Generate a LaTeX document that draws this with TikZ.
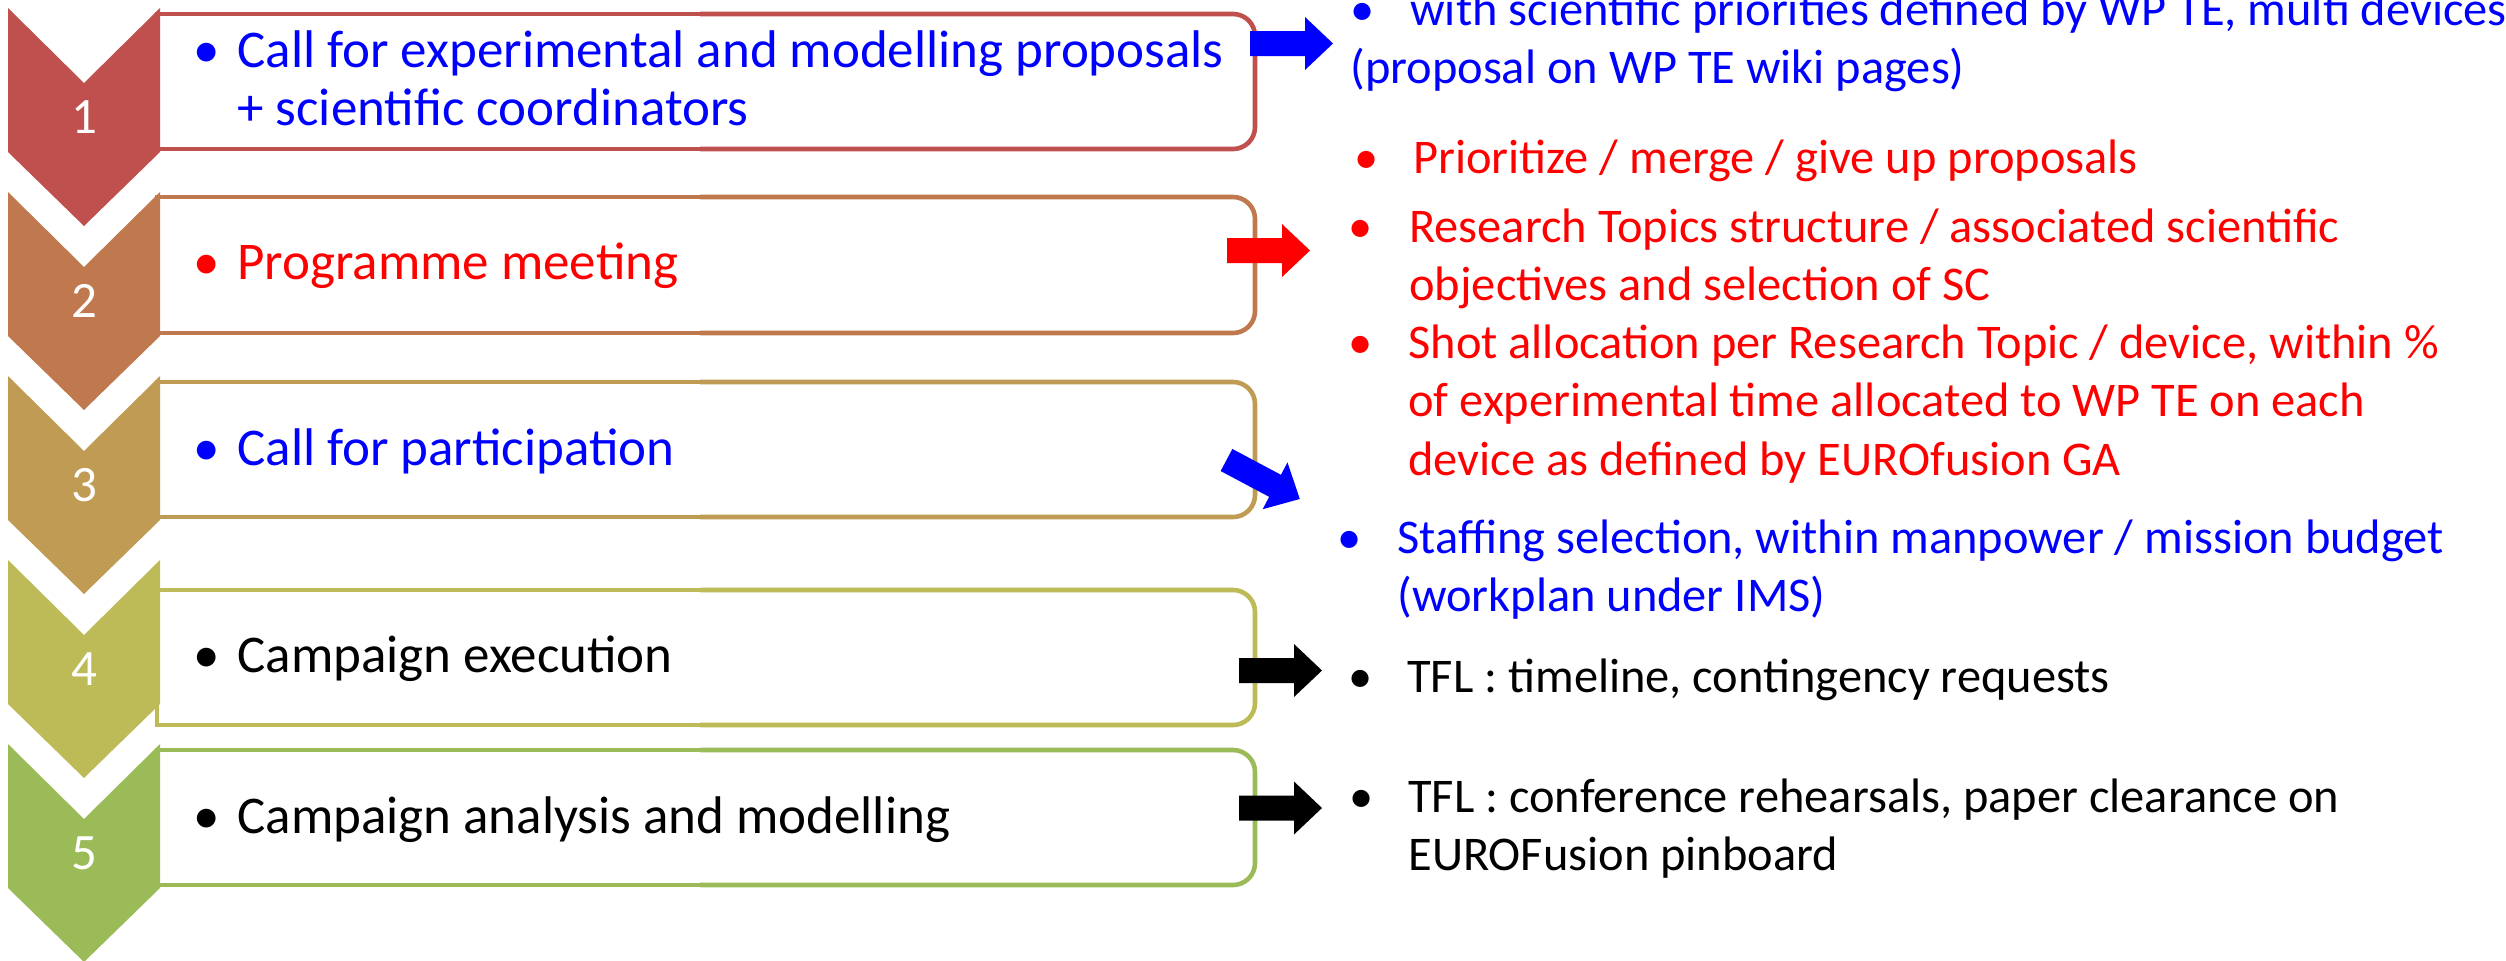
\documentclass[tikz,border=0pt]{standalone}
\usepackage{fontspec}
\setmainfont{Carlito}
\definecolor{chevA}{HTML}{C0504D}
\definecolor{chevB}{HTML}{C0794F}
\definecolor{chevC}{HTML}{BF9B53}
\definecolor{chevD}{HTML}{BDBB58}
\definecolor{chevE}{HTML}{9BBB59}
\newcommand{\bul}[1]{\makebox[#1][l]{\textbullet}}
\newcommand{\lines}[1]{\begin{tabular}[t]{@{}l@{}}#1\end{tabular}}
\newcommand{\stepbox}[3]{%
	\draw[boxline, #1, line cap=rect] (700,#2) -- (157,#2) -- (157,#3) -- (700,#3);
	\draw[boxline, #1, rounded corners=11pt] (700,#2) -- (1255,#2) -- (1255,#3) -- (700,#3);}
\newcommand{\blockarrow}[3]{%
	\fill[#1, shift={#2}, rotate=#3] (0,-12.5) -- (55,-12.5) -- (55,-26.5) -- (83,0) -- (55,26.5) -- (55,12.5) -- (0,12.5) -- cycle;}
\tikzset{
	boxline/.style={line width=2.3pt},
	num/.style={text=white, inner sep=0pt, font=\fontsize{25.5}{30}\selectfont},
	stxt/.style={anchor=base west, inner sep=0pt, font=\fontsize{26.5}{29}\selectfont},
	txt/.style={anchor=base west, inner sep=0pt, font=\fontsize{24.2}{29.25}\selectfont},
}

\begin{document}
\begin{tikzpicture}[x=0.5pt, y=-0.5pt]
	\useasboundingbox (0,0) rectangle (2506,960);
	\stepbox{chevA}{14}{149}
	\stepbox{chevB}{197}{333}
	\stepbox{chevC}{382}{517}
	\stepbox{chevD}{590}{725}
	\stepbox{chevE}{750}{885}
	\foreach \i/\col in {1/chevA,2/chevB,3/chevC,4/chevD,5/chevE}{
		\pgfmathsetmacro{\ytop}{8+184*(\i-1)}
		\fill[\col] (8,\ytop) -- (84,\ytop+75) -- (160,\ytop) -- (160,\ytop+144) -- (84,\ytop+218) -- (8,\ytop+144) -- cycle;
		\node[num] (n\i) at (84,\ytop+109) {\i};
	}
	\blockarrow{blue}{(1250,43.5)}{0}
	\blockarrow{red}{(1227,250.5)}{0}
	\blockarrow{blue}{(1226.5,460)}{-28}
	\blockarrow{black}{(1239,670.5)}{0}
	\blockarrow{black}{(1239,808)}{0}

	\node[stxt, text=blue] (s1) at (193,67) {\lines{\bul{22pt}Call for experimental and modelling proposals\\\hspace*{22pt}+ scientific coordinators}};
	\node[stxt, text=red] (s2) at (193,279) {\bul{22pt}Programme meeting};
	\node[stxt, text=blue] (s3) at (193,465) {\bul{22pt}Call for participation};
	\node[stxt] (s4) at (193,672) {\bul{22pt}Campaign execution};
	\node[stxt] (s5) at (193,833) {\bul{22pt}Campaign analysis and modelling};

	\node[txt, text=blue] (r1) at (1350,25) {\lines{\bul{30pt}with scientific priorities defined by WP TE, multi devices\\(proposal on WP TE wiki pages)}};
	\node[txt, text=red] (r2) at (1354,173) {\bul{29.5pt}Prioritize / merge / give up proposals};
	\node[txt, text=red] (r3) at (1348,242) {\lines{\bul{30.5pt}Research Topics structure / associated scientific\\\hspace*{30.5pt}objectives and selection of SC}};
	\node[txt, text=red] (r4) at (1348,358) {\lines{\bul{30pt}Shot allocation per Research Topic / device, within \%\\\hspace*{30pt}of experimental time allocated to WP TE on each\\\hspace*{30pt}device as defined by EUROfusion GA}};
	\node[txt, text=blue] (r5) at (1337,553) {\lines{\bul{30pt}Staffing selection, within manpower / mission budget\\\hspace*{30pt}(workplan under IMS)}};
	\node[txt] (r6) at (1348,692) {\bul{29.5pt}TFL : timeline, contingency requests};
	\node[txt] (r7) at (1349,812) {\lines{\bul{29.5pt}TFL : conference rehearsals, paper clearance on\\\hspace*{29.5pt}EUROFusion pinboard}};
\end{tikzpicture}
\end{document}
